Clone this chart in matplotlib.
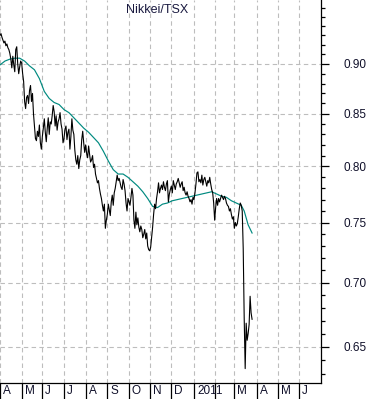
import numpy as np
import pandas as pd
import matplotlib
matplotlib.use("Agg")
import matplotlib.pyplot as plt
from matplotlib.ticker import FixedLocator, NullFormatter, FuncFormatter

plt.rcParams['font.family'] = ['Liberation Sans', 'DejaVu Sans']

# ---- data: Nikkei/TSX ratio, daily closes Apr 1 2010 - Mar 25 2011 ----
apr10 = [0.930, 0.932, 0.928, 0.925, 0.922, 0.924, 0.919, 0.921, 0.917, 0.915, 0.911,
         0.905, 0.896, 0.908, 0.899, 0.892, 0.915, 0.918, 0.900, 0.890, 0.897, 0.903]
may10 = [0.901, 0.890, 0.882, 0.862, 0.855, 0.866, 0.868, 0.860, 0.873, 0.878, 0.862,
         0.870, 0.850, 0.838, 0.826, 0.824, 0.833, 0.828, 0.839, 0.822, 0.816]
jun10 = [0.828, 0.836, 0.845, 0.832, 0.823, 0.836, 0.846, 0.830, 0.842, 0.840, 0.848,
         0.858, 0.852, 0.838, 0.848, 0.834, 0.842, 0.845, 0.851, 0.840, 0.835, 0.822]
jul10 = [0.826, 0.835, 0.838, 0.825, 0.832, 0.835, 0.816, 0.828, 0.845, 0.834, 0.830,
         0.815, 0.806, 0.802, 0.810, 0.798, 0.806, 0.810, 0.825, 0.833, 0.822, 0.813]
aug10 = [0.820, 0.812, 0.808, 0.819, 0.811, 0.804, 0.806, 0.810, 0.799, 0.802, 0.793,
         0.789, 0.785, 0.787, 0.780, 0.775, 0.771, 0.765, 0.760, 0.766, 0.745, 0.752]
sep10 = [0.757, 0.766, 0.761, 0.756, 0.768, 0.774, 0.765, 0.776, 0.780, 0.786, 0.792,
         0.787, 0.789, 0.785, 0.781, 0.779, 0.788, 0.784, 0.778, 0.767, 0.760, 0.771]
oct10 = [0.768, 0.765, 0.772, 0.780, 0.774, 0.752, 0.745, 0.759, 0.748, 0.754, 0.746,
         0.742, 0.747, 0.744, 0.737, 0.740, 0.744, 0.736, 0.741, 0.730, 0.727]
nov10 = [0.726, 0.729, 0.737, 0.746, 0.757, 0.766, 0.762, 0.771, 0.777, 0.785, 0.776,
         0.780, 0.783, 0.779, 0.786, 0.781, 0.778, 0.784, 0.787, 0.768, 0.775, 0.779]
dec10 = [0.782, 0.776, 0.787, 0.783, 0.779, 0.784, 0.786, 0.789, 0.785, 0.781, 0.784,
         0.786, 0.778, 0.781, 0.776, 0.774, 0.777, 0.773, 0.771, 0.768, 0.770, 0.766, 0.772]
jan11 = [0.770, 0.776, 0.784, 0.794, 0.795, 0.786, 0.788, 0.785, 0.792, 0.783, 0.788,
         0.790, 0.786, 0.782, 0.787, 0.785, 0.790, 0.784, 0.779, 0.776, 0.767]
feb11 = [0.752, 0.763, 0.771, 0.765, 0.771, 0.768, 0.771, 0.774, 0.772, 0.770, 0.773,
         0.771, 0.767, 0.765, 0.764, 0.760, 0.762, 0.757, 0.753, 0.755]
mar11 = [0.745, 0.750, 0.747, 0.749, 0.755, 0.762, 0.767, 0.765, 0.760, 0.728, 0.672,
         0.634, 0.668, 0.655, 0.660, 0.667, 0.689, 0.676, 0.671]

# moving average (teal), sampled at trading-day index
ma_index = [0, 5, 10, 15, 20, 25, 30, 35, 40, 45, 50, 55, 60, 65, 70, 75, 80, 85, 90,
            95, 100, 105, 110, 115, 120, 125, 130, 135, 140, 145, 150, 155, 160, 165,
            170, 175, 180, 185, 190, 195, 200, 205, 210, 215, 220, 225, 230, 235, 240,
            245, 248, 250, 252, 256]
ma_values = [0.899, 0.903, 0.905, 0.906, 0.906, 0.903, 0.898, 0.894, 0.885, 0.872, 0.865,
             0.861, 0.859, 0.854, 0.851, 0.846, 0.841, 0.836, 0.832, 0.827, 0.822, 0.814,
             0.805, 0.797, 0.793, 0.793, 0.790, 0.786, 0.782, 0.777, 0.771, 0.764, 0.763,
             0.766, 0.767, 0.769, 0.770, 0.771, 0.772, 0.773, 0.774, 0.775, 0.776, 0.777,
             0.775, 0.773, 0.772, 0.769, 0.767, 0.765, 0.760, 0.754, 0.748, 0.741]

month_labels = ['A', 'M', 'J', 'J', 'A', 'S', 'O', 'N', 'D', '2011', '', 'M', 'A', 'M', 'J']
y_major = [0.65, 0.70, 0.75, 0.80, 0.85, 0.90]
y_minor = [0.63, 0.64, 0.66, 0.67, 0.68, 0.69, 0.71, 0.72, 0.73, 0.74, 0.76, 0.77, 0.78,
           0.79, 0.81, 0.82, 0.83, 0.84, 0.86, 0.87, 0.88, 0.89, 0.91, 0.92, 0.93, 0.94,
           0.95, 0.96]
title = 'Nikkei/TSX'

values = apr10 + may10 + jun10 + jul10 + aug10 + sep10 + oct10 + nov10 + dec10 + jan11 + feb11 + mar11

# trading-day axis
axis_days = pd.bdate_range('2010-04-01', '2011-06-30')
idx = np.arange(len(values))
month_start_idx = []
prev = None
for i, d in enumerate(axis_days):
    key = (d.year, d.month)
    if key != prev:
        month_start_idx.append(i)
        prev = key

fig = plt.figure(figsize=(3.71, 3.99), dpi=100)
ax = fig.add_axes([0.0, 16 / 399, 321 / 371, 1 - 16 / 399])

grid_kw = dict(color='#bdbdbd', linewidth=0.8, linestyle=(0, (4, 3)), zorder=0)
for m in month_start_idx:
    ax.axvline(m, **grid_kw)
for v in y_major:
    ax.axhline(v, **grid_kw)

ax.plot(ma_index, ma_values, color='#008a80', linewidth=0.85, zorder=2)
ax.plot(idx, values, color='black', linewidth=0.8, zorder=3)

ax.set_yscale('log')
ax.set_ylim(0.6236, 0.9687)
ax.set_xlim(0.5, 326)

ax.yaxis.set_major_locator(FixedLocator(y_major))
ax.yaxis.set_major_formatter(FuncFormatter(lambda v, p: f'{v:.2f}'))
ax.yaxis.set_minor_locator(FixedLocator(y_minor))
ax.yaxis.set_minor_formatter(NullFormatter())
ax.yaxis.tick_right()
ax.tick_params(axis='y', which='major', direction='out', length=6, width=0.9,
               pad=10, labelsize=8.5, labelcolor='#10102a')
ax.tick_params(axis='y', which='minor', direction='out', length=3, width=0.9)

ax.set_xticks(month_start_idx)
ax.set_xticklabels([])
ax.tick_params(axis='x', which='major', direction='out', length=11.5, width=0.9)

for m, lab in zip(month_start_idx, month_labels):
    ax.annotate(lab, xy=(m, 0), xycoords=('data', 'axes fraction'),
                xytext=(3, -8), textcoords='offset pixels',
                ha='left', va='center', fontsize=8.5, color='#10102a',
                annotation_clip=False)

ax.text(0.49, 0.975, title, transform=ax.transAxes, ha='center', va='center',
        fontsize=9, color='#1a1a40')

for s in ['top', 'left']:
    ax.spines[s].set_visible(False)
ax.spines['right'].set_linewidth(0.9)
ax.spines['bottom'].set_linewidth(0.9)

fig.savefig('out.png', dpi=100)
